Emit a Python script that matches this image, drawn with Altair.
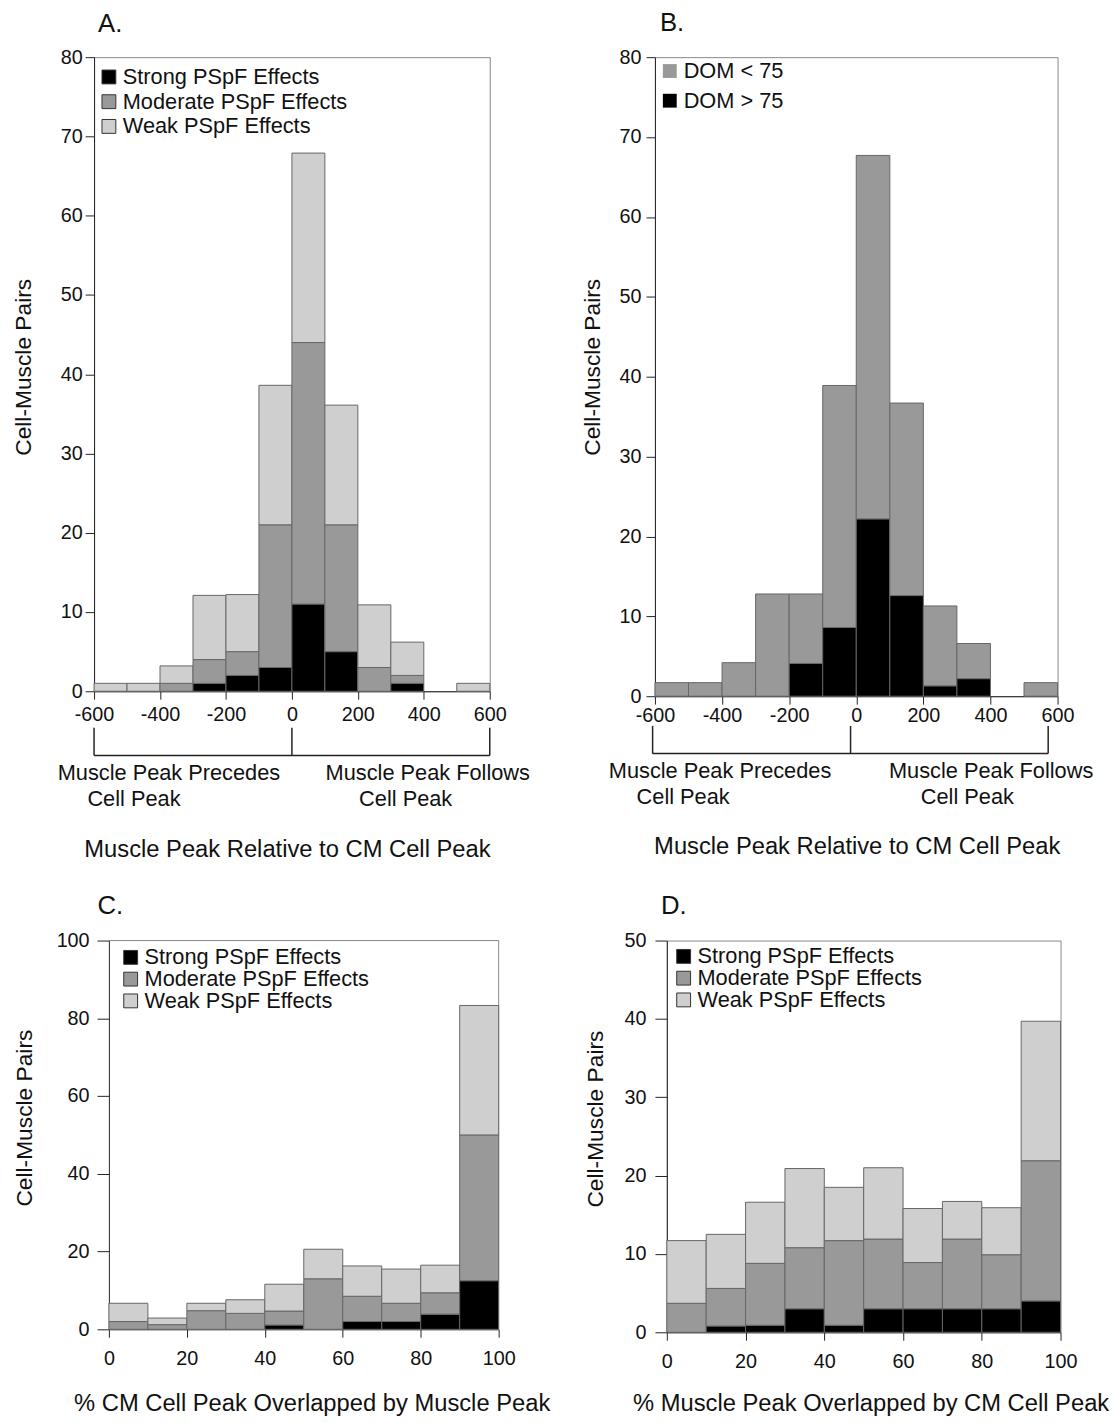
import altair as alt
import pandas as pd

FONT = "Liberation Sans"
INK = "#111111"
FRAME = "#888888"

# ---------------- data ----------------
# Panel A: muscle peak relative to CM cell peak (bins of 100)
a_edges = [-600, -500, -400, -300, -200, -100, 0, 100, 200, 300, 400, 500, 600]
a_strong = [0, 0, 0, 1, 2, 3, 11, 5, 0, 1, 0, 0]
a_moderate = [0, 0, 1, 3, 3, 18, 33, 16, 3, 1, 0, 0]
a_weak = [1, 1, 2.2, 8.1, 7.2, 17.6, 23.9, 15.1, 7.9, 4.2, 0, 1]
pspf_names = ["Strong PSpF Effects", "Moderate PSpF Effects", "Weak PSpF Effects"]
pspf_colors = ["#000000", "#999999", "#cfcfcf"]

# Panel B: DOM split
b_edges = a_edges
b_dom_high = [0, 0, 0, 0, 4.1, 8.6, 22.2, 12.6, 1.3, 2.2, 0, 0]
b_dom_low = [1.7, 1.7, 4.2, 12.8, 8.7, 30.3, 45.5, 24.1, 10.0, 4.4, 0, 1.7]
dom_names = ["DOM < 75", "DOM > 75"]
dom_colors = ["#999999", "#000000"]

# Panel C: % CM cell peak overlapped by muscle peak
c_edges = [0, 10, 20, 30, 40, 50, 60, 70, 80, 90, 100]
c_strong = [0, 0, 0, 0, 1.1, 0, 2, 2, 3.9, 12.5]
c_moderate = [2, 1.2, 4.8, 4.1, 3.6, 13, 6.5, 4.7, 5.5, 37.5]
c_weak = [4.7, 1.7, 1.9, 3.5, 6.9, 7.6, 7.8, 8.8, 7.1, 33.3]

# Panel D: % muscle peak overlapped by CM cell peak
d_edges = c_edges
d_strong = [0, 0.8, 0.9, 3, 0.9, 3, 3, 3, 3, 4]
d_moderate = [3.7, 4.8, 7.9, 7.8, 10.8, 8.9, 5.9, 8.9, 6.9, 17.9]
d_weak = [8.0, 6.9, 7.8, 10.1, 6.8, 9.1, 6.9, 4.8, 6.0, 17.8]

# bracket annotations under A and B (x in data units)
a_bracket = [-600, 0, 600]
b_bracket = [-607, -17, 572]
a_line1_x = [-373, 412]
a_line2_x = [-479, 345]
b_line1_x = [-406, 402]
b_line2_x = [-516, 331]
line1_text = ["Muscle Peak Precedes", "Muscle Peak Follows"]
line2_text = ["Cell Peak", "Cell Peak"]


def stack_table(edges, names, series):
    rows = []
    for i in range(len(edges) - 1):
        base = 0.0
        for name, vals in zip(names, series):
            v = vals[i]
            if v > 0:
                rows.append({"x": edges[i], "x2": edges[i + 1],
                             "y": base, "y2": base + v, "cat": name})
            base += v
    return pd.DataFrame(rows)


def axis(values, title_x, title_y, tick, pad, angle=None, **kw):
    opts = dict(values=values, grid=False, domainColor="#222", tickColor="#222",
                domainWidth=1, tickWidth=1, tickSize=tick, labelPadding=pad,
                labelFont=FONT, labelFontSize=20, labelColor=INK, labelFlush=False,
                labelOverlap=False, labelExpr="datum.value + ''",
                titleFont=FONT, titleFontWeight="normal", titleColor=INK,
                titleX=title_x, titleY=title_y, titleAlign="center",
                titleBaseline="alphabetic")
    if angle is not None:
        opts["titleAngle"] = angle
    opts.update(kw)
    return alt.Axis(**opts)


def panel(df, names, colors, letter, letter_dx, letter_off, w, h,
          xdom, xvals, xtitle, xtx, xty, xtick, xpad,
          ydom, yvals, ytx, yty, ytick, ypad,
          lx, ly, lrow, sym_stroke, extra=None, shift=0):
    # shift > 0 moves the plotting area right inside its cell (frame drawn by rules)
    if shift:
        xscale = alt.Scale(domain=xdom, nice=False, zero=False, range=[shift, w])
        yaxis_extra = {"offset": -shift}
    else:
        xscale = alt.Scale(domain=xdom, nice=False, zero=False)
        yaxis_extra = {}
    bars = alt.Chart(df).mark_bar(stroke="#666666", strokeWidth=1).encode(
        x=alt.X("x:Q", scale=xscale,
                axis=axis(xvals, xtx + shift, xty, xtick, xpad, titleFontSize=24),
                title=xtitle),
        x2="x2:Q",
        y=alt.Y("y:Q", scale=alt.Scale(domain=ydom, nice=False),
                axis=axis(yvals, ytx, yty, ytick, ypad, angle=270, titleFontSize=23,
                          **yaxis_extra),
                title="Cell-Muscle Pairs"),
        y2="y2:Q",
        color=alt.Color("cat:N", scale=alt.Scale(domain=names, range=colors),
                        legend=alt.Legend(title=None, orient="none",
                                          legendX=lx + shift, legendY=ly,
                                          direction="vertical", symbolType="square",
                                          symbolSize=196, symbolStrokeColor="#333333",
                                          symbolStrokeWidth=sym_stroke, symbolOpacity=1,
                                          labelFont=FONT, labelFontSize=22, labelColor=INK,
                                          labelOffset=3, labelLimit=500,
                                          rowPadding=lrow, padding=0)),
    )
    letter_mark = alt.Chart(pd.DataFrame({"t": [letter]})).mark_text(
        font=FONT, fontSize=26, color=INK, align="left", baseline="alphabetic"
    ).encode(x=alt.value(letter_dx + shift), y=alt.value(-letter_off), text="t:N")
    layers = [bars, letter_mark]
    if shift:
        fr = pd.DataFrame({"x0": [xdom[0]], "x1": [xdom[1]], "y0": [ydom[0]], "y1": [ydom[1]]})
        top_line = alt.Chart(fr).mark_rule(color=FRAME, strokeWidth=1).encode(
            x="x0:Q", x2="x1:Q", y="y1:Q")
        right_line = alt.Chart(fr).mark_rule(color=FRAME, strokeWidth=1).encode(
            x="x1:Q", y="y0:Q", y2="y1:Q")
        layers = [top_line, right_line] + layers
    layers += (extra or [])
    ch = alt.layer(*layers).properties(width=w, height=h)
    if shift:
        ch = ch.properties(view=alt.ViewBackground(strokeOpacity=0))
    return ch


def bracket_layers(ticks, l1x, l2x, y_top, y_bot, y_l1, y_l2):
    tdf = pd.DataFrame({"bx": ticks})
    hdf = pd.DataFrame({"x0": [ticks[0]], "x1": [ticks[-1]]})
    t1 = pd.DataFrame({"tx": l1x, "label": line1_text})
    t2 = pd.DataFrame({"tx": l2x, "label": line2_text})
    vt = alt.Chart(tdf).mark_rule(color="#222", strokeWidth=1.5).encode(
        x="bx:Q", y=alt.value(y_top), y2=alt.value(y_bot))
    hl = alt.Chart(hdf).mark_rule(color="#222", strokeWidth=1.5).encode(
        x="x0:Q", x2="x1:Q", y=alt.value(y_bot))
    tx1 = alt.Chart(t1).mark_text(font=FONT, fontSize=22, color=INK, align="center",
                                  baseline="alphabetic").encode(
        x="tx:Q", y=alt.value(y_l1), text="label:N")
    tx2 = alt.Chart(t2).mark_text(font=FONT, fontSize=22, color=INK, align="center",
                                  baseline="alphabetic").encode(
        x="tx:Q", y=alt.value(y_l2), text="label:N")
    return [vt, hl, tx1, tx2]


df_a = stack_table(a_edges, pspf_names, [a_strong, a_moderate, a_weak])
df_b = stack_table(b_edges, ["DOM > 75", "DOM < 75"], [b_dom_high, b_dom_low])
df_c = stack_table(c_edges, pspf_names, [c_strong, c_moderate, c_weak])
df_d = stack_table(d_edges, pspf_names, [d_strong, d_moderate, d_weak])

xt_ab = [-600, -400, -200, 0, 200, 400, 600]
yt_ab = [0, 10, 20, 30, 40, 50, 60, 70, 80]
xt_cd = [0, 20, 40, 60, 80, 100]

chart_a = panel(df_a, pspf_names, pspf_colors, "A.", 4, 25, 400, 641,
                [-600, 600], xt_ab, "Muscle Peak Relative to CM Cell Peak", 195, 167, 8, 6,
                [0, 80], yt_ab, -64.5, 313, 9, 3,
                4, 9, 3, 1,
                bracket_layers(a_bracket, a_line1_x, a_line2_x, 678, 706, 731, 757))

chart_b = panel(df_b, dom_names, dom_colors, "B.", 5, 26, 407, 646,
                [-600, 600], xt_ab, "Muscle Peak Relative to CM Cell Peak", 204, 159, 8, 2,
                [0, 80], yt_ab, -56.3, 313, 9, 5,
                4, 3, 8, 0,
                bracket_layers(b_bracket, b_line1_x, b_line2_x, 676, 704, 729, 755))

chart_c = panel(df_c, pspf_names, pspf_colors, "C.", -11.5, 26.5, 409, 393,
                [0, 100], xt_cd, "% CM Cell Peak Overlapped by Muscle Peak", 205, 82, 8, 12,
                [0, 100], [0, 20, 40, 60, 80, 100], -78.5, 179, 12, 8,
                11, 6, 0, 1, shift=15)

chart_d = panel(df_d, pspf_names, pspf_colors, "D.", -6, 26.5, 398, 396,
                [0, 100], xt_cd, "% Muscle Peak Overlapped by CM Cell Peak", 206, 79, 8, 12,
                [0, 50], [0, 10, 20, 30, 40, 50], -65.1, 180, 12, 9,
                6, 5, 0, 1)

top = alt.hconcat(chart_a, chart_b, spacing=50).resolve_scale(
    color="independent").resolve_legend(color="independent")
bottom = alt.hconcat(chart_c, chart_d, spacing=34).resolve_scale(
    color="independent").resolve_legend(color="independent")

chart = alt.concat(top, bottom, columns=1, align="none", spacing=31).resolve_scale(
    color="independent").resolve_legend(color="independent").properties(
    padding={"left": 4, "top": -6, "right": 0, "bottom": 0}
).configure_view(stroke=FRAME, strokeWidth=1)

chart.save("out.html", embed_options={"renderer": "svg", "actions": False})
